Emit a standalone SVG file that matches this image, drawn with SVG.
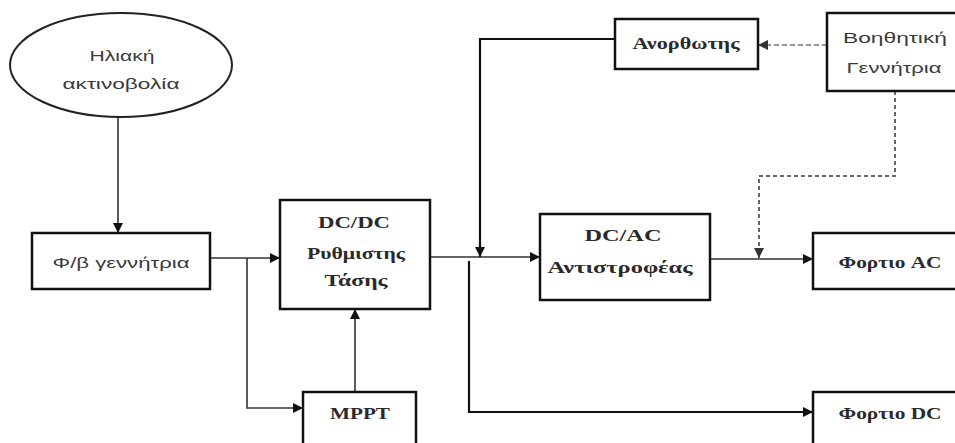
<svg xmlns="http://www.w3.org/2000/svg" width="955" height="443" viewBox="0 0 955 443">
<defs>
<marker id="ah" viewBox="0 0 10 10" refX="10" refY="5" markerWidth="10" markerHeight="10" markerUnits="userSpaceOnUse" orient="auto">
<path d="M0,0 L10,5 L0,10 z" fill="#111"/>
</marker>
<marker id="ahg" viewBox="0 0 10 10" refX="10" refY="5" markerWidth="10" markerHeight="10" markerUnits="userSpaceOnUse" orient="auto">
<path d="M0,0 L10,5 L0,10 z" fill="#333"/>
</marker>
</defs>
<style>
.box{fill:#fff;stroke:#111;stroke-width:2.5}
.sans{font-family:"Liberation Sans","DejaVu Sans",sans-serif;font-size:15px;fill:#3a3a3a;text-anchor:middle;dominant-baseline:central}
.serif{font-family:"Liberation Serif","DejaVu Serif",serif;font-size:17px;font-weight:bold;fill:#2a2a2a;text-anchor:middle;dominant-baseline:central}
.ln{fill:none;stroke:#333;stroke-width:1.6}
.lnb{fill:none;stroke:#111;stroke-width:2.2}
.dash{fill:none;stroke:#777;stroke-width:1.6;stroke-dasharray:5 3}
.dot{fill:none;stroke:#666;stroke-width:2;stroke-dasharray:4 3}
</style>
<rect width="955" height="443" fill="#fff"/>
<g id="connectors">
<path class="ln" d="M118,117 V233" marker-end="url(#ah)"/>
<path class="ln" d="M210,258 H280" marker-end="url(#ah)"/>
<path class="ln" d="M247,258 V408 H303" marker-end="url(#ah)"/>
<path class="ln" d="M355,392 V309" marker-end="url(#ah)"/>
<path class="ln" d="M430,257 H540" marker-end="url(#ah)"/>
<path class="lnb" d="M615,39 H480 V257" marker-end="url(#ah)"/>
<path class="lnb" d="M469,261 V412 H813" marker-end="url(#ah)"/>
<path class="ln" d="M710,259 H813" marker-end="url(#ah)"/>
<path class="dash" d="M827,45 H758" marker-end="url(#ahg)"/>
<path class="dot" d="M895,91 V176 H759 V258" marker-end="url(#ahg)"/>
</g>
<g id="hliaki">
<ellipse cx="121" cy="65" rx="111" ry="52" fill="#fff" stroke="#222" stroke-width="2"/>
<text class="sans" x="122" y="55" textLength="65" lengthAdjust="spacingAndGlyphs">Ηλιακή</text>
<text class="sans" x="121" y="83" textLength="117" lengthAdjust="spacingAndGlyphs">ακτινοβολία</text>
</g>
<g id="fb">
<rect class="box" x="32" y="233" width="178" height="56"/>
<text class="sans" x="121" y="262" textLength="137" lengthAdjust="spacingAndGlyphs">Φ/β γεννήτρια</text>
</g>
<g id="dcdc">
<rect class="box" x="280" y="200" width="150" height="109"/>
<text class="serif" x="354" y="222" textLength="72" lengthAdjust="spacingAndGlyphs">DC/DC</text>
<text class="serif" x="356" y="253" textLength="98" lengthAdjust="spacingAndGlyphs">Ρυθμιστης</text>
<text class="serif" x="356" y="280" textLength="63" lengthAdjust="spacingAndGlyphs">Τάσης</text>
</g>
<g id="mppt">
<rect class="box" x="303" y="392" width="113" height="58"/>
<text class="serif" x="360" y="413" textLength="60" lengthAdjust="spacingAndGlyphs">MPPT</text>
</g>
<g id="dcac">
<rect class="box" x="540" y="214" width="170" height="86"/>
<text class="serif" x="623" y="235" textLength="77" lengthAdjust="spacingAndGlyphs">DC/AC</text>
<text class="serif" x="620" y="267" textLength="145" lengthAdjust="spacingAndGlyphs">Αντιστροφέας</text>
</g>
<g id="anorthotis">
<rect class="box" x="615" y="19" width="143" height="50"/>
<text class="serif" x="686" y="43" textLength="107" lengthAdjust="spacingAndGlyphs">Ανορθωτης</text>
</g>
<g id="voithitiki">
<rect class="box" x="827" y="13" width="140" height="78"/>
<text class="sans" x="895" y="37" textLength="104" lengthAdjust="spacingAndGlyphs">Βοηθητική</text>
<text class="sans" x="894" y="67" textLength="95" lengthAdjust="spacingAndGlyphs">Γεννήτρια</text>
</g>
<g id="fortio-ac">
<rect class="box" x="813" y="233" width="155" height="56"/>
<text class="serif" x="890" y="262" textLength="103" lengthAdjust="spacingAndGlyphs">Φορτιο AC</text>
</g>
<g id="fortio-dc">
<rect class="box" x="813" y="392" width="155" height="58"/>
<text class="serif" x="890" y="413" textLength="103" lengthAdjust="spacingAndGlyphs">Φορτιο DC</text>
</g>
</svg>
